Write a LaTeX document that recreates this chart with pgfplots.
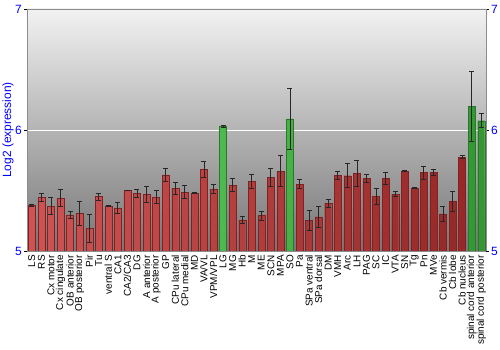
\documentclass[border=0pt]{standalone}
\usepackage{fontspec}
\setmainfont{Liberation Sans}
\usepackage{pgfplots}
\pgfplotsset{compat=1.18}
\usepackage{pgfplotstable}

\definecolor{redL}{HTML}{CE5454}
\definecolor{redR}{HTML}{962828}
\definecolor{greenL}{HTML}{50B850}
\definecolor{greenR}{HTML}{349634}
\definecolor{bgTop}{HTML}{F2F2F2}
\definecolor{bgMid}{HTML}{A8A8A8}
\definecolor{bgBot}{HTML}{767676}

\pgfplotstableread{
x y e
0 5.378 0.01
1 5.442 0.03
2 5.370 0.07
3 5.436 0.07
4 5.296 0.03
5 5.312 0.10
6 5.188 0.115
7 5.450 0.03
8 5.373 0.003
9 5.356 0.045
10 5.500 0.003
11 5.475 0.03
12 5.467 0.068
13 5.445 0.055
14 5.630 0.052
15 5.519 0.052
16 5.486 0.055
17 5.478 0.003
18 5.674 0.065
19 5.511 0.036
21 5.544 0.052
22 5.257 0.025
23 5.577 0.06
24 5.293 0.037
25 5.610 0.075
26 5.660 0.128
28 5.552 0.036
29 5.254 0.08
30 5.282 0.086
31 5.395 0.032
32 5.624 0.033
33 5.622 0.098
34 5.641 0.108
35 5.600 0.033
36 5.450 0.064
37 5.600 0.052
38 5.470 0.02
39 5.660 0.003
40 5.519 0.003
41 5.649 0.054
42 5.652 0.025
43 5.307 0.06
44 5.412 0.082
45 5.776 0.014
}\reddata

\pgfplotstableread{
x y e
20 6.030 0.01
27 6.091 0.25
46 6.193 0.29
47 6.077 0.057
}\greendata

\begin{document}
\begin{tikzpicture}
\useasboundingbox (0,0) rectangle (500bp,350bp);
\begin{axis}[
  at={(27bp,99bp)}, anchor=south west,
  scale only axis, width=459bp, height=242bp,
  xmin=-0.5, xmax=47.5, ymin=5, ymax=7,
  ytick={5,6,7},
  xtick={0,...,47},
  xticklabels={LS,RS,Cx motor,Cx cingulate,OB anterior,OB posterior,Pir,Tu,ventral S,CA1,CA2/CA3,DG,A anterior,A posterior,GP,CPu lateral,CPu medial,MD,VA/VL,VPM/VPL,LG,MG,Hb,M,ME,SCN,MPA,SO,Pa,SPa ventral,SPa dorsal,DM,VMH,Arc,LH,PAG,SC,IC,VTA,SN,Tg,Pn,MVe,Cb vermis,Cb lobe,Cb nucleus,spinal cord anterior,spinal cord posterior},
  x tick label style={rotate=90, anchor=east, font=\fontsize{10}{10}\selectfont, inner sep=1bp},
  y tick label style={font=\fontsize{12}{12}\selectfont, text=blue, inner sep=2bp},
  /pgf/number format/assume math mode=true,
  xtick style={draw=none},
  ytick style={black, line width=0.8pt},
  tick align=outside, major tick length=3bp,
  ytick pos=left,
  axis line style={draw=gray!90, line width=1pt},
  ymajorgrids, grid style={white, line width=1pt},
  axis background/.style={top color=bgTop, middle color=bgMid, bottom color=bgBot},
  ylabel={Log2 (expression)},
  every axis y label/.style={at={(axis description cs:0,0.5)}, xshift=-19bp, rotate=90, anchor=center, font=\fontsize{12}{12}\selectfont, text=blue},
  clip=true,
]
\addplot[ybar, bar width=7bp, bar shift=0pt, draw=redR!85!black, line width=0.3pt, left color=redL, right color=redR,
  error bars/.cd, y dir=both, y explicit,
  error bar style={black!85, line width=0.8pt},
  error mark options={rotate=90, mark size=2.5bp, black!85, line width=0.8pt}]
  table[x=x, y=y, y error=e] {\reddata};
\addplot[ybar, bar width=7bp, bar shift=0pt, draw=greenR!80!black, line width=0.3pt, left color=greenL, right color=greenR,
  error bars/.cd, y dir=both, y explicit,
  error bar style={black!85, line width=0.8pt},
  error mark options={rotate=90, mark size=2.5bp, black!85, line width=0.8pt}]
  table[x=x, y=y, y error=e] {\greendata};
\end{axis}
\begin{axis}[
  at={(27bp,99bp)}, anchor=south west,
  scale only axis, width=459bp, height=242bp,
  xmin=-0.5, xmax=47.5, ymin=5, ymax=7,
  ytick={5,6,7},
  axis x line=none,
  axis y line*=right,
  axis line style={draw=gray!90, line width=1pt},
  y tick label style={font=\fontsize{12}{12}\selectfont, text=blue, inner sep=2bp},
  /pgf/number format/assume math mode=true,
  ytick style={black, line width=0.8pt},
  tick align=outside, major tick length=3bp,
]
\addplot[draw=none] coordinates {(0,5)};
\end{axis}
\end{tikzpicture}
\end{document}
